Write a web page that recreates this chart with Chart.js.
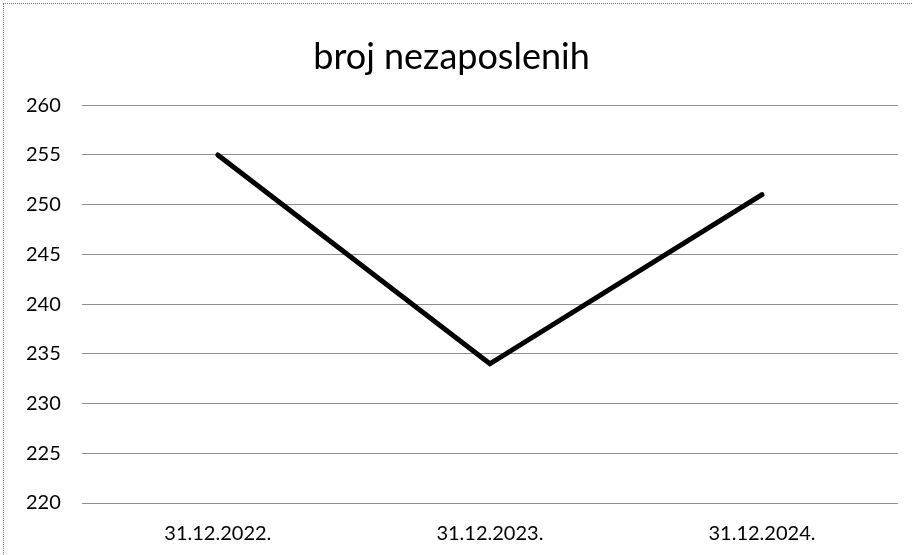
<!DOCTYPE html>
<html>
<head>
<meta charset="utf-8">
<script src="https://cdn.jsdelivr.net/npm/chart.js@4/dist/chart.umd.min.js"></script>
<style>
  html, body { margin: 0; padding: 0; background: #fff; }
  #wrap { position: relative; width: 912px; height: 555px; }
  #frame { position: absolute; left: 3px; top: 3px; right: 0; bottom: 0;
           border-left: 1px dotted #777; border-top: 1px dotted #777; pointer-events: none; }
</style>
</head>
<body>
<div id="wrap">
  <canvas id="c" width="912" height="555"></canvas>
  <div id="frame"></div>
</div>
<script>
const titleText = 'broj nezaposlenih';
const categories = ['31.12.2022.', '31.12.2023.', '31.12.2024.'];
const values = [255, 234, 251];
const yMin = 220, yMax = 260, yStep = 5;

new Chart(document.getElementById('c'), {
  type: 'line',
  data: {
    labels: categories,
    datasets: [{
      data: values,
      borderColor: '#000',
      borderWidth: 5,
      pointRadius: 0,
      tension: 0,
      borderCapStyle: 'round',
      borderJoinStyle: 'miter'
    }]
  },
  options: {
    responsive: false,
    animation: false,
    layout: { padding: { left: 5, right: 14, top: 0, bottom: -10 } },
    plugins: {
      legend: { display: false },
      tooltip: { enabled: false },
      title: {
        display: true,
        text: titleText,
        color: '#000',
        font: { family: 'Lato', size: 36, weight: 'normal' },
        padding: { top: 36, bottom: 26 }
      }
    },
    scales: {
      x: {
        offset: true,
        grid: { display: false, drawTicks: false },
        border: { display: false },
        ticks: { color: '#000', font: { family: 'Lato', size: 20 }, padding: 19, maxRotation: 0 }
      },
      y: {
        min: yMin, max: yMax,
        grid: { color: '#909090', lineWidth: 1, drawTicks: false },
        border: { display: false },
        ticks: { stepSize: yStep, color: '#000', font: { family: 'Lato', size: 20 }, padding: 21 }
      }
    }
  }
});
</script>
</body>
</html>
